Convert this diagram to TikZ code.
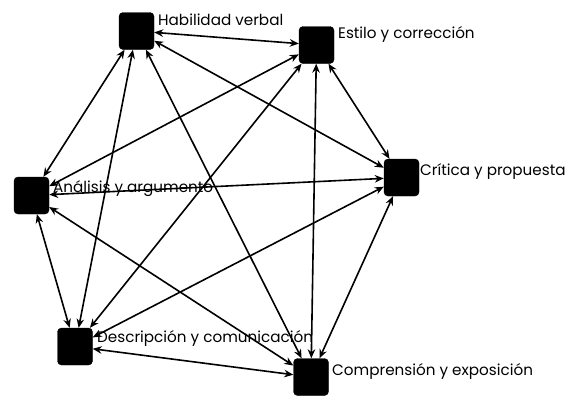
\documentclass[tikz,border=0pt]{standalone}
\usepackage{fontspec}
\setmainfont{Poppins}
\usetikzlibrary{arrows.meta}
\begin{document}
\begin{tikzpicture}[x=1pt,y=-1pt,
  sq/.style={draw=black,fill=black,rectangle,rounded corners=4pt,minimum width=35pt,minimum height=37pt,inner sep=0pt},
  lbl/.style={anchor=base west,inner sep=0pt,font=\fontsize{15.2}{17}\selectfont},
  link/.style={line width=1.6pt,{Stealth[length=9pt,width=7.5pt]}-{Stealth[length=9pt,width=7.5pt]}}]
\useasboundingbox[fill=white] (0,0) rectangle (585,400);
\node[sq] (H) at (136.5,31) {};
\node[sq] (E) at (316.5,45) {};
\node[sq] (C) at (401.5,177.5) {};
\node[sq] (A) at (31.5,195.5) {};
\node[sq] (D) at (75,346.5) {};
\node[sq] (P) at (311,377) {};
\draw[link] (H) -- (E);
\draw[link] (H) -- (C);
\draw[link] (H) -- (A);
\draw[link] (H) -- (D);
\draw[link] (H) -- (P);
\draw[link] (E) -- (A);
\draw[link] (E) -- (D);
\draw[link] (E) -- (P);
\draw[link] (E) -- (C);
\draw[link] (A) -- (C);
\draw[link] (A) -- (D);
\draw[link] (A) -- (P);
\draw[link] (C) -- (D);
\draw[link] (C) -- (P);
\draw[link] (D) -- (P);
\node[lbl] (tH) at (158,25) {Habilidad verbal};
\node[lbl] (tE) at (338,38) {Estilo y corrección};
\node[lbl] (tC) at (420,175) {Crítica y propuesta};
\node[lbl] (tA) at (53,192) {Análisis y argumento};
\node[lbl] (tD) at (97,342) {Descripción y comunicación};
\node[lbl] (tP) at (332,375) {Comprensión y exposición};
\end{tikzpicture}
\end{document}
